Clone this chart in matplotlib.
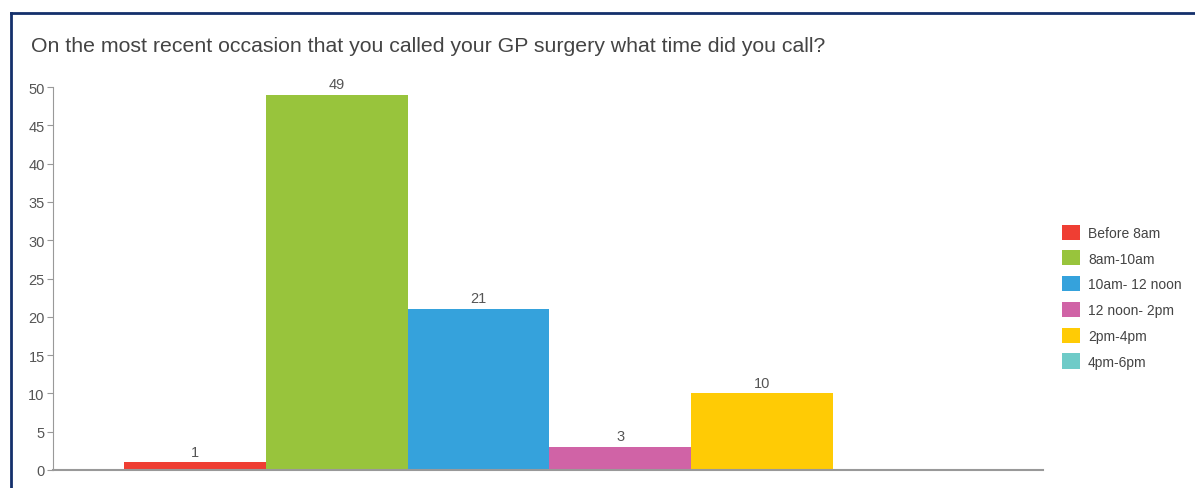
import matplotlib
matplotlib.use('Agg')
import matplotlib.pyplot as plt
from matplotlib.lines import Line2D
from matplotlib.patches import Patch

plt.rcParams['font.family'] = ['Liberation Sans', 'DejaVu Sans']

# Survey answers
categories = ['Before 8am', '8am-10am', '10am- 12 noon', '12 noon- 2pm', '2pm-4pm', '4pm-6pm']
counts = [1, 49, 21, 3, 10, 0]
colors = ['#EF3E33', '#98C43C', '#35A2DC', '#D063A6', '#FFCB05', '#6ECBC8']
yticks = list(range(0, 51, 5))

W, H = 1195, 489
fig = plt.figure(figsize=(W / 100, H / 100), dpi=100)

# frame around the chart (only top and left edges fall inside the image)
navy = '#14306B'
fig.add_artist(Line2D([11 / W, 11 / W], [-0.1, 1 - 14 / H], color=navy, lw=2.0,
                      transform=fig.transFigure, solid_capstyle='projecting'))
fig.add_artist(Line2D([11 / W, 1.1], [1 - 14 / H, 1 - 14 / H], color=navy, lw=2.0,
                      transform=fig.transFigure, solid_capstyle='projecting'))

fig.text(31 / W, 1 - 47 / H, 'On the most recent occasion that you called your GP surgery what time did you call?',
         fontsize=15.3, color='#444444', va='center', ha='left')

ax = fig.add_axes([53 / W, (H - 471) / H, (1043 - 53) / W, (471 - 88) / H])
x = list(range(len(categories)))
bars = ax.bar(x, counts, width=1.0, color=colors, linewidth=0)
for xi, v in zip(x, counts):
    if v > 0:
        ax.text(xi, v + 0.5, str(v), ha='center', va='bottom', fontsize=10.5, color='#555555')

ax.set_xlim(-1.0, 5.98)
ax.set_ylim(0, 50)
ax.set_yticks(yticks)
ax.set_xticks([])
for s in ['top', 'right']:
    ax.spines[s].set_visible(False)
ax.spines['left'].set_color('#999999')
ax.spines['left'].set_linewidth(0.8)
ax.spines['bottom'].set_color('#999999')
ax.spines['bottom'].set_linewidth(1.5)
ax.tick_params(axis='y', colors='#999999', labelcolor='#555555', labelsize=10.5,
               length=4, width=0.8, pad=2)

handles = [Patch(facecolor=c, edgecolor='none') for c in colors]
fig.legend(handles, categories, loc='upper left', bbox_to_anchor=(1056 / W, 1 - 220 / H),
           frameon=False, fontsize=10, labelcolor='#444444', handlelength=1.3,
           handleheight=1.3, handletextpad=0.6, labelspacing=0.76, borderaxespad=0)

fig.savefig('out.png', dpi=100)
